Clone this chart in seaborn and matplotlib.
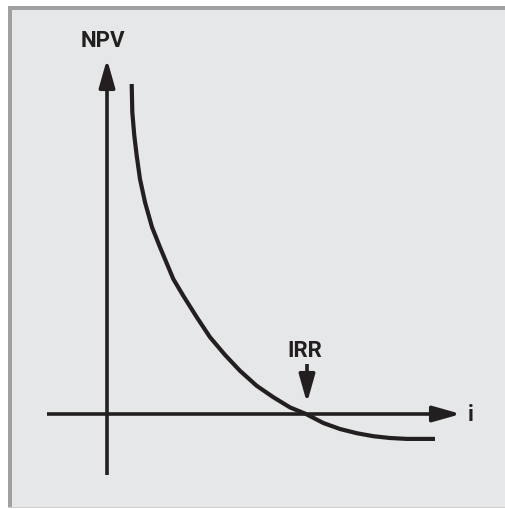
import matplotlib
matplotlib.use("Agg")
import matplotlib.pyplot as plt
from matplotlib.patches import Rectangle
import seaborn as sns
import pandas as pd

# Data (interest rate i vs NPV, arbitrary units)
rates = [1.235, 1.265, 1.365, 1.485, 1.65, 1.9, 2.25, 2.65, 3.315, 3.815, 4.485,
         5.15, 5.9, 6.65, 7.485, 8.315, 9.15, 9.95, 10.815, 11.65, 12.485,
         13.315, 14.15, 14.985, 16.4]
npv = [110.0, 100.6, 92.8, 86.1, 78.3, 70.6, 62.3, 55.6, 45.0, 39.4, 32.3,
       25.6, 19.7, 14.4, 9.4, 5.6, 2.2, 0.0, -3.0, -5.0, -6.4,
       -7.4, -8.0, -8.3, -8.3]
irr = 9.95
labels = {"y": "NPV", "x": "i", "irr": "IRR"}

df = pd.DataFrame({"i": rates, "NPV": npv})

sns.set_style("white")
plt.rcParams["font.family"] = ["Roboto", "DejaVu Sans"]

W, H = 506, 510
fig = plt.figure(figsize=(W / 100, H / 100), dpi=100)
fig.patch.set_facecolor("white")

# panel background and frame (figure pixel coords)
def px_rect(x0, y0, x1, y1, color, z):
    fig.add_artist(Rectangle((x0 / W, 1 - y1 / H), (x1 - x0) / W, (y1 - y0) / H,
                             transform=fig.transFigure, facecolor=color,
                             edgecolor="none", zorder=z))

px_rect(8, 7, 512, 509, "#e6e7e8", 0)
px_rect(8, 7, 512, 11, "#9fa0a2", 1)
px_rect(8, 7, 12, 509, "#9fa0a2", 1)
px_rect(8, 507.5, 512, 509, "#cfd0d2", 1)

ax = fig.add_axes([0, 0, 1, 1])
ax.set_facecolor("none")
ax.patch.set_alpha(0)
# pixel mapping: x_px = 107 + 20*i ; y_px = 415 - 3*NPV
ax.set_xlim((0 - 107) / 20, (W - 107) / 20)
ax.set_ylim((415 - H) / 3, (415 - 0) / 3)
ax.axis("off")

ink = "#231f20"
line = sns.lineplot(data=df, x="i", y="NPV", ax=ax, color=ink, lw=3.0, zorder=5)
for ln in ax.get_lines():
    ln.set_solid_capstyle("butt")
    ln.set_solid_joinstyle("round")

def arrow(x0, y0, x1, y1):
    ax.annotate("", xy=(x1, y1), xytext=(x0, y0),
                arrowprops=dict(arrowstyle="-|>,head_length=0.85,head_width=0.24",
                                mutation_scale=20, lw=2.6, color=ink,
                                shrinkA=0, shrinkB=0, capstyle="butt"),
                zorder=6)

# vertical axis (NPV)
arrow(0, (415 - 476) / 3, 0, (415 - 60) / 3)
# horizontal axis (i)
arrow((47 - 107) / 20, 0, (461 - 107) / 20, 0)
# IRR marker arrow
arrow(irr + (307 - 306) / 20, (415 - 365) / 3, irr + (307 - 306) / 20, (415 - 404) / 3)

tk = dict(color=ink, fontweight="bold", fontsize=16, ha="center", va="center")
ax.text((103 - 107) / 20, (415 - 41) / 3, labels["y"], **tk)
ax.text((471 - 107) / 20, (415 - 415) / 3, labels["x"], **tk)
ax.text(irr + (305 - 306) / 20, (415 - 351) / 3, labels["irr"], **tk)

fig.savefig("out.png", dpi=100)
